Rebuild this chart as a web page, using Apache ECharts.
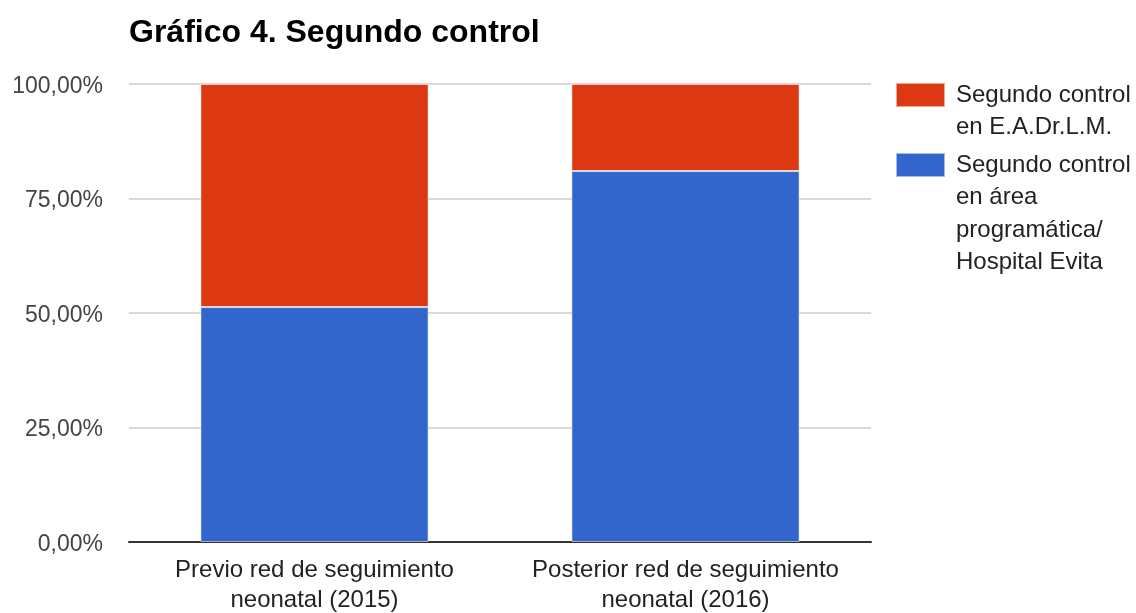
<!DOCTYPE html>
<html>
<head>
<meta charset="utf-8">
<script src="https://cdn.jsdelivr.net/npm/echarts@6/dist/echarts.min.js"></script>
<style>
  html, body { margin: 0; padding: 0; background: #fff; }
  #chart { width: 1136px; height: 613px; }
</style>
</head>
<body>
<div id="chart"></div>
<script>
// Categories (x axis)
const categories = [
  'Previo red de seguimiento\nneonatal (2015)',
  'Posterior red de seguimiento\nneonatal (2016)'
];
// Series names and their legend lines
const seriesNames = [
  'Segundo control en área programática/ Hospital Evita',
  'Segundo control en E.A.Dr.L.M.'
];
const legendLines = [
  ['Segundo control', 'en área', 'programática/', 'Hospital Evita'],
  ['Segundo control', 'en E.A.Dr.L.M.']
];
// Percentages per category
const areaProgramatica = [51.3, 81.0];
const eadrlm = [48.7, 19.0];
// Y axis ticks
const yMin = 0, yMax = 100, yStep = 25;

const FONT = 'Liberation Sans, Arial, sans-serif';
const BLUE = '#3366cc';
const RED = '#dc3912';
const LEGEND_LH = 32.5;

function pct(v) {
  return '{v|' + v.toFixed(2).replace('.', ',') + '%}';
}

// Legend text is centred on its swatch; blank lines above keep the
// first line level with the swatch and the rest hanging below it.
function legendItem(name, lines, swatchTop) {
  const n = lines.length;
  const text = new Array(n - 1).fill('').concat(lines).join('\n');
  const blockH = (2 * n - 1) * LEGEND_LH;
  return {
    orient: 'vertical',
    left: 895,
    top: swatchTop + 12 - blockH / 2,
    padding: 0,
    itemWidth: 49,
    itemHeight: 24,
    itemGap: 0,
    icon: 'rect',
    selectedMode: false,
    data: [{ name: name }],
    formatter: function () { return text; },
    textStyle: {
      fontFamily: FONT,
      fontSize: 24,
      color: '#222',
      lineHeight: LEGEND_LH,
      padding: [0, 0, 0, 6]
    }
  };
}

const chart = echarts.init(document.getElementById('chart'), null, { renderer: 'canvas' });

chart.setOption({
  animation: false,
  backgroundColor: '#fff',
  title: {
    text: 'Gráfico 4. Segundo control',
    left: 124,
    top: 12,
    textStyle: {
      fontFamily: FONT,
      fontSize: 32,
      fontWeight: 'bold',
      color: '#000'
    }
  },
  legend: [
    legendItem(seriesNames[1], legendLines[1], 83),
    legendItem(seriesNames[0], legendLines[0], 153)
  ],
  grid: {
    left: 129,
    right: 265,
    top: 84,
    bottom: 71,
    containLabel: false,
    outerBoundsMode: 'none'
  },
  xAxis: {
    type: 'category',
    data: categories,
    axisTick: { show: false },
    axisLine: { show: true, lineStyle: { color: '#333', width: 2 } },
    axisLabel: {
      interval: 0,
      fontFamily: FONT,
      fontSize: 24,
      color: '#222',
      lineHeight: 30,
      margin: 13
    }
  },
  yAxis: {
    type: 'value',
    min: yMin,
    max: yMax,
    interval: yStep,
    axisLine: { show: false },
    axisTick: { show: false },
    splitLine: { lineStyle: { color: '#cccccc', width: 1.5 } },
    axisLabel: {
      margin: 26,
      formatter: pct,
      rich: {
        v: {
          fontFamily: FONT,
          fontSize: 23,
          color: '#444',
          padding: [5, 0, 0, 0]
        }
      }
    }
  },
  series: [
    {
      name: seriesNames[0],
      type: 'bar',
      stack: 'total',
      data: areaProgramatica,
      barWidth: '61.5%',
      itemStyle: { color: BLUE, borderColor: 'rgba(255,255,255,0.55)', borderWidth: 1 }
    },
    {
      name: seriesNames[1],
      type: 'bar',
      stack: 'total',
      data: eadrlm,
      barWidth: '61.5%',
      itemStyle: { color: RED, borderColor: 'rgba(255,255,255,0.55)', borderWidth: 1 }
    }
  ]
});
</script>
</body>
</html>
